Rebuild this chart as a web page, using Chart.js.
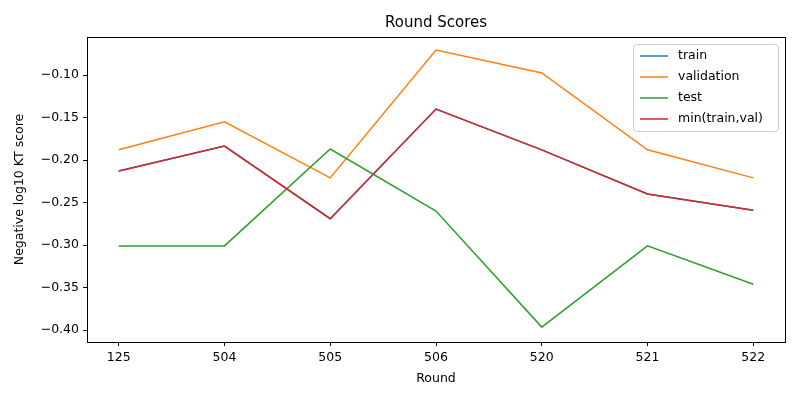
<!DOCTYPE html>
<html>
<head>
<meta charset="utf-8">
<script src="https://cdn.jsdelivr.net/npm/chart.js@4"></script>
<style>
  html, body { margin: 0; padding: 0; background: #fff; }
  #wrap { width: 800px; height: 400px; }
</style>
</head>
<body>
<div id="wrap"><canvas id="chart" width="800" height="400"></canvas></div>
<script>
const rounds = ["125", "504", "505", "506", "520", "521", "522"];
const train = [-0.213, -0.1835, -0.269, -0.140, -0.188, -0.240, -0.259];
const validation = [-0.188, -0.155, -0.221, -0.0706, -0.0976, -0.188, -0.221];
const test = [-0.301, -0.301, -0.187, -0.260, -0.3965, -0.301, -0.346];
const minTrainVal = [-0.213, -0.1835, -0.269, -0.140, -0.188, -0.240, -0.259];
const yTicks = [-0.40, -0.35, -0.30, -0.25, -0.20, -0.15, -0.10];

const FONT = "DejaVu Sans";
const toPoints = arr => arr.map((v, i) => ({ x: i, y: v }));
const fmt = v => (v < 0 ? "\u2212" : "") + Math.abs(v).toFixed(2);

const series = [
    { label: "train", data: train, color: "#1f77b4" },
    { label: "validation", data: validation, color: "#ff7f0e" },
    { label: "test", data: test, color: "#2ca02c" },
    { label: "min(train,val)", data: minTrainVal, color: "#d62728" }
];

// frame, title and in-plot legend like matplotlib
const decor = {
    id: "decor",
    afterDraw(chart) {
        const { ctx, chartArea: a } = chart;
        ctx.save();
        ctx.strokeStyle = "#000";
        ctx.lineWidth = 1;
        ctx.strokeRect(a.left + 0.5, a.top + 0.5, a.right - a.left, a.bottom - a.top);

        ctx.fillStyle = "#000";
        ctx.font = "15px '" + FONT + "'";
        ctx.textAlign = "center";
        ctx.textBaseline = "middle";
        ctx.fillText("Round Scores", (a.left + a.right) / 2, 23);

        const bx = 633, by = 44, bw = 145, bh = 87;
        ctx.fillStyle = "rgba(255,255,255,0.8)";
        ctx.strokeStyle = "#ccc";
        ctx.beginPath();
        ctx.roundRect(bx + 0.5, by + 0.5, bw, bh, 3);
        ctx.fill();
        ctx.stroke();
        ctx.font = "12.5px '" + FONT + "'";
        ctx.textAlign = "left";
        series.forEach((s, i) => {
            const y = by + 12 + i * 21;
            ctx.strokeStyle = s.color;
            ctx.lineWidth = 1.5;
            ctx.beginPath();
            ctx.moveTo(bx + 7, y);
            ctx.lineTo(bx + 35, y);
            ctx.stroke();
            ctx.fillStyle = "#000";
            ctx.fillText(s.label, bx + 45, y);
        });
        ctx.restore();
    }
};

new Chart(document.getElementById("chart"), {
    type: "line",
    data: {
        datasets: series.map((s, i) => ({
            label: s.label,
            data: toPoints(s.data),
            borderColor: s.color,
            backgroundColor: s.color,
            borderWidth: 1.5,
            pointRadius: 0,
            tension: 0,
            order: series.length - i
        }))
    },
    options: {
        responsive: false,
        animation: false,
        layout: { padding: { top: 37, right: 15, left: 8, bottom: 10 } },
        plugins: { legend: { display: false }, title: { display: false }, tooltip: { enabled: false } },
        scales: {
            x: {
                type: "linear",
                min: -0.3,
                max: 6.3,
                afterBuildTicks: scale => { scale.ticks = rounds.map((r, i) => ({ value: i })); },
                afterFit: scale => { scale.height = 48; },
                ticks: {
                    color: "#000",
                    font: { family: FONT, size: 12.5 },
                    callback: v => rounds[v],
                    maxRotation: 0,
                    padding: 4
                },
                grid: { drawOnChartArea: false, tickLength: 4, color: "#000" },
                border: { color: "#000" },
                title: { display: true, text: "Round", color: "#000", font: { family: FONT, size: 12.5 }, padding: { top: 2 } }
            },
            y: {
                min: -0.414,
                max: -0.0553,
                afterBuildTicks: scale => { scale.ticks = yTicks.map(v => ({ value: v })); },
                afterFit: scale => { scale.width = 79; },
                ticks: {
                    color: "#000",
                    font: { family: FONT, size: 12.5 },
                    callback: v => fmt(v),
                    padding: 4
                },
                grid: { drawOnChartArea: false, tickLength: 4, color: "#000" },
                border: { color: "#000" },
                title: { display: true, text: "Negative log10 KT score", color: "#000", font: { family: FONT, size: 12.5 }, padding: { bottom: 4 } }
            }
        }
    },
    plugins: [decor]
});
</script>
</body>
</html>
